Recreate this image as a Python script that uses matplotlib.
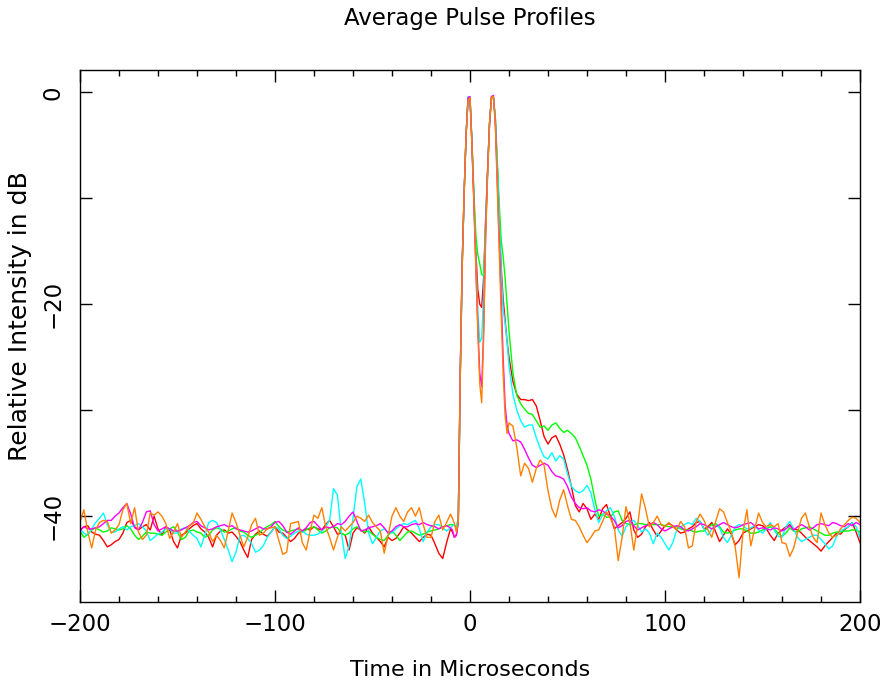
import numpy as np
import matplotlib
matplotlib.use("Agg")
import matplotlib.pyplot as plt
from matplotlib.ticker import MultipleLocator

# time grid (microseconds): coarse before/after the pulse, fine across it
t_pre = np.arange(-200, -9, 2)
t_mid = np.arange(-9, 20, 1)
t_post = np.arange(20, 201, 2)

# --- red ---
red_pre = [-41.3, -41.0, -40.9, -41.5, -41.7, -41.8, -42.3, -42.9, -42.7, -42.4,
           -42.2, -41.6, -40.6, -40.4, -41.0, -41.3, -41.0, -40.8, -41.3, -40.0,
           -41.2, -41.8, -41.0, -41.3, -42.4, -43.0, -41.8, -41.6, -41.2, -40.9,
           -40.7, -41.2, -41.5, -42.0, -42.9, -41.8, -41.4, -41.3, -41.6, -41.5,
           -41.9, -42.4, -43.2, -43.9, -42.2, -41.7, -41.4, -41.7, -41.9, -41.5,
           -41.0, -41.5, -41.6, -42.0, -42.4, -42.1, -41.6, -41.4, -41.2, -41.3,
           -41.0, -41.2, -41.3, -40.8, -40.4, -41.0, -41.7, -41.6, -41.8, -43.2,
           -41.6, -41.1, -41.3, -41.6, -41.0, -41.6, -42.0, -42.4, -42.9, -42.0,
           -42.3, -42.1, -41.6, -41.0, -41.3, -41.6, -42.0, -42.4, -42.0, -41.7,
           -41.8, -42.6, -43.5, -44.0, -42.5, -41.2]
red_mid = [-41.5, -42.0, -41.8, -40.5, -26.5, -16.0, -9.5, -4.0, -0.6, -0.6,
           -4.8, -10.0, -15.0, -18.6, -20.0, -20.3, -17.5, -12.0, -7.5, -3.0,
           -0.5, -0.5, -2.5, -7.0, -12.0, -16.5, -19.5, -21.5, -23.5]
red_post = [-25.0, -27.3, -28.5, -29.0, -29.0, -29.1, -29.0, -29.6, -31.0, -32.5,
            -33.2, -32.6, -32.4, -33.2, -34.2, -35.6, -37.2, -39.0, -39.6, -38.8,
            -39.3, -40.3, -39.8, -40.3, -39.3, -38.9, -40.0, -41.2, -40.9, -40.6,
            -40.2, -39.6, -41.3, -42.0, -41.7, -41.0, -40.6, -41.3, -41.9, -41.4,
            -40.9, -40.7, -40.9, -41.3, -41.6, -41.5, -41.2, -41.0, -40.6, -40.5,
            -41.2, -41.0, -40.6, -41.5, -42.4, -41.8, -41.2, -41.7, -42.7, -42.3,
            -41.6, -41.4, -41.2, -41.0, -40.8, -40.9, -41.2, -41.8, -42.3, -41.6,
            -41.3, -41.0, -40.8, -41.2, -41.3, -41.6, -42.0, -42.3, -42.6, -42.9,
            -43.3, -42.8, -42.4, -42.0, -41.6, -41.7, -41.3, -41.0, -40.6, -41.5, -42.5]

# --- green ---
green_pre = [-41.4, -42.0, -41.7, -41.3, -41.1, -41.3, -41.5, -41.4, -41.1, -41.2,
             -41.3, -41.2, -40.9, -41.2, -41.8, -42.2, -41.9, -41.5, -41.6, -41.6,
             -41.7, -41.8, -41.5, -41.2, -41.0, -41.5, -42.2, -42.0, -41.4, -41.3,
             -41.5, -41.6, -42.0, -41.8, -41.3, -41.1, -41.2, -41.5, -41.4, -41.2,
             -41.1, -41.4, -41.5, -41.8, -42.0, -41.8, -41.6, -41.2, -41.0, -40.8,
             -40.5, -41.0, -41.3, -41.5, -41.4, -41.3, -41.2, -41.5, -41.3, -41.1,
             -41.0, -41.3, -41.6, -41.4, -41.1, -41.0, -41.1, -41.6, -41.8, -41.6,
             -41.2, -41.0, -41.3, -41.5, -41.4, -41.7, -42.0, -42.2, -42.3, -41.8,
             -41.4, -41.8, -42.3, -41.9, -41.5, -41.4, -41.6, -41.8, -41.7, -41.5,
             -41.4, -41.3, -41.2, -41.0, -40.9, -40.8]
green_mid = [-40.8, -40.9, -41.0, -40.2, -27.0, -16.5, -9.5, -4.0, -0.5, -0.5,
             -4.5, -9.5, -13.5, -15.3, -16.2, -17.2, -17.3, -12.5, -7.5, -3.0,
             -0.5, -0.5, -2.5, -6.5, -10.5, -14.0, -15.5, -17.5, -20.0]
green_post = [-22.5, -26.5, -28.6, -29.4, -29.9, -30.3, -30.4, -31.0, -31.6, -31.5,
              -31.9, -31.4, -31.2, -31.7, -32.1, -31.9, -32.2, -32.6, -33.4, -34.3,
              -35.2, -36.5, -38.4, -40.0, -39.8, -40.1, -40.1, -39.6, -39.5, -40.4,
              -40.7, -40.8, -40.8, -40.7, -40.7, -40.8, -40.8, -40.8, -40.8, -40.8,
              -40.9, -41.0, -41.0, -41.0, -41.2, -41.3, -41.3, -41.4, -41.5, -41.4,
              -41.4, -41.1, -40.8, -40.7, -41.0, -41.5, -41.6, -41.5, -41.3, -41.2,
              -41.2, -41.4, -41.6, -41.6, -41.5, -41.3, -41.2, -41.0, -41.2, -41.6,
              -41.9, -41.6, -41.1, -41.4, -41.5, -41.2, -41.1, -41.0, -41.2, -41.4,
              -41.6, -41.8, -41.8, -41.6, -41.5, -41.5, -41.4, -41.4, -41.3, -41.3, -41.5]

# --- cyan ---
cyan_pre = [-41.2, -41.6, -41.8, -41.2, -40.6, -40.2, -39.7, -40.8, -41.5, -41.5,
            -41.2, -41.0, -41.3, -41.0, -40.9, -40.7, -41.0, -41.4, -42.3, -42.0,
            -41.7, -41.5, -41.2, -41.2, -41.6, -41.6, -41.2, -41.1, -41.4, -41.8,
            -42.1, -42.9, -41.8, -40.6, -40.4, -40.6, -41.3, -42.2, -43.2, -44.3,
            -43.4, -41.9, -41.8, -42.1, -42.6, -43.4, -43.2, -42.8, -42.0, -41.5,
            -41.0, -41.2, -41.8, -42.1, -41.9, -41.6, -41.4, -41.4, -41.7, -41.8,
            -41.8, -41.7, -41.4, -41.0, -40.4, -37.4, -38.0, -41.5, -44.0, -42.8,
            -40.2, -37.2, -36.5, -38.8, -41.6, -42.6, -42.0, -41.4, -41.2, -41.5,
            -41.6, -41.2, -40.9, -40.7, -40.8, -40.6, -40.4, -41.2, -42.4, -41.5,
            -41.0, -40.8, -40.8, -41.1, -41.4, -41.1]
cyan_mid = [-40.9, -40.8, -41.0, -40.3, -27.0, -16.5, -9.5, -4.0, -0.4, -0.5,
            -4.8, -10.0, -15.5, -20.5, -23.6, -23.2, -19.0, -12.5, -7.5, -3.0,
            -0.5, -0.4, -2.5, -7.0, -12.0, -17.0, -20.5, -21.8, -23.5]
cyan_post = [-25.8, -28.5, -30.0, -31.0, -31.6, -31.4, -31.4, -32.6, -33.6, -34.4,
             -34.6, -34.0, -34.8, -34.3, -34.6, -36.0, -37.2, -37.6, -37.8, -37.6,
             -37.1, -37.8, -39.4, -40.6, -39.9, -39.5, -39.2, -40.0, -41.3, -41.9,
             -41.0, -40.6, -40.4, -40.9, -41.5, -41.2, -41.6, -42.6, -41.6, -42.0,
             -42.6, -43.2, -42.5, -41.3, -41.0, -40.8, -40.6, -40.8, -40.2, -40.5,
             -41.2, -41.8, -41.2, -40.8, -41.1, -42.0, -42.5, -41.8, -41.0, -40.8,
             -40.9, -41.2, -41.1, -40.9, -41.3, -41.6, -41.2, -40.6, -41.3, -41.9,
             -42.0, -41.0, -40.5, -41.2, -42.0, -42.4, -42.2, -42.0, -41.8, -41.8,
             -42.2, -42.6, -43.1, -42.8, -41.9, -41.4, -41.2, -41.0, -40.6, -41.0, -42.0]

# --- magenta ---
magenta_pre = [-41.4, -41.0, -41.2, -41.2, -41.1, -41.0, -40.7, -40.4, -40.4, -40.0,
               -39.7, -39.2, -38.8, -39.8, -41.1, -41.3, -40.6, -39.6, -39.5, -40.8,
               -41.4, -41.2, -41.0, -41.2, -41.4, -41.4, -41.3, -41.1, -40.9, -40.6,
               -40.5, -40.9, -41.1, -41.3, -41.2, -41.0, -40.9, -40.8, -41.0, -40.9,
               -41.2, -41.3, -41.4, -41.5, -41.4, -41.2, -41.0, -41.2, -41.2, -41.0,
               -40.6, -40.5, -40.9, -41.5, -41.7, -41.4, -41.1, -41.4, -41.1, -40.6,
               -40.5, -40.9, -41.3, -41.0, -41.1, -41.0, -40.7, -40.8, -40.5, -40.0,
               -39.6, -40.5, -41.4, -41.3, -41.1, -41.0, -40.9, -40.7, -41.1, -41.6,
               -41.4, -41.0, -40.8, -41.0, -41.0, -40.8, -40.7, -40.8, -40.6, -40.8,
               -40.9, -41.0, -41.2, -41.0, -40.9, -41.1]
magenta_mid = [-41.3, -42.0, -41.8, -40.5, -26.5, -16.2, -9.5, -4.0, -0.5, -0.4,
               -5.0, -10.5, -16.5, -22.0, -26.5, -27.8, -22.5, -13.5, -7.5, -3.0,
               -0.4, -0.3, -3.0, -8.5, -14.0, -19.5, -25.0, -29.5, -31.4]
magenta_post = [-32.2, -32.9, -32.8, -33.0, -33.7, -34.5, -35.2, -35.4, -35.2, -35.0,
                -35.2, -35.8, -36.2, -36.3, -36.5, -37.2, -38.2, -38.8, -39.2, -39.3,
                -39.2, -39.5, -39.6, -39.4, -39.5, -39.8, -40.0, -40.4, -41.1, -40.9,
                -40.5, -40.4, -40.9, -41.3, -41.1, -40.9, -40.8, -40.6, -40.8, -41.2,
                -41.4, -41.2, -41.0, -40.9, -41.0, -41.3, -41.4, -41.2, -41.0, -40.7,
                -40.8, -41.0, -41.2, -41.0, -40.8, -40.6, -40.8, -41.0, -41.1, -41.0,
                -40.8, -40.7, -40.6, -40.9, -41.2, -41.1, -41.2, -41.3, -41.1, -41.2,
                -41.4, -41.2, -40.9, -41.3, -41.0, -40.8, -41.0, -41.3, -41.1, -40.8,
                -40.7, -40.8, -40.9, -40.6, -40.7, -40.9, -41.0, -40.7, -40.9, -40.6, -40.8]

# --- orange ---
orange_pre = [-40.5, -39.4, -41.5, -43.0, -41.3, -40.6, -40.4, -40.5, -41.6, -41.3,
              -40.8, -39.4, -38.8, -40.7, -39.2, -41.5, -42.2, -41.8, -39.7, -39.9,
              -39.6, -40.0, -40.7, -42.1, -41.5, -40.7, -42.0, -41.5, -40.9, -40.7,
              -39.7, -40.3, -41.0, -41.5, -42.4, -41.8, -42.3, -43.0, -41.4, -39.7,
              -40.6, -41.8, -42.9, -42.0, -40.8, -40.2, -41.8, -41.6, -41.2, -41.1,
              -41.0, -42.3, -43.6, -43.4, -40.7, -40.6, -40.5, -42.5, -43.2, -41.4,
              -39.9, -40.2, -39.2, -41.0, -42.0, -43.2, -42.0, -41.0, -41.4, -41.0,
              -40.6, -40.0, -40.2, -40.5, -39.9, -40.6, -41.0, -41.4, -43.5, -41.8,
              -40.0, -39.2, -40.0, -40.5, -39.6, -39.2, -40.0, -39.2, -40.8, -42.0,
              -42.0, -40.5, -39.9, -41.3, -40.6, -39.8]
orange_mid = [-40.2, -40.7, -41.5, -40.5, -27.0, -16.5, -9.5, -4.0, -0.8, -0.5,
              -5.0, -10.5, -16.5, -22.5, -27.5, -29.3, -23.0, -14.0, -8.0, -3.0,
              -0.5, -0.4, -3.0, -9.0, -15.0, -21.0, -26.5, -30.5, -32.2]
orange_post = [-31.2, -31.5, -33.5, -36.2, -35.0, -35.5, -36.8, -35.5, -34.7, -35.2,
               -37.6, -39.3, -40.1, -38.5, -37.5, -39.0, -40.3, -40.4, -41.0, -41.8,
               -42.5, -42.0, -41.4, -41.3, -40.5, -39.6, -40.2, -41.0, -44.2, -42.0,
               -39.1, -40.6, -43.2, -40.8, -37.9, -39.3, -41.0, -40.6, -40.0, -40.8,
               -41.0, -40.6, -41.0, -41.3, -40.5, -41.0, -43.0, -42.8, -40.5, -39.8,
               -40.4, -41.3, -42.0, -40.5, -39.3, -39.6, -40.6, -41.5, -42.9, -45.8,
               -41.5, -39.4, -42.8, -41.2, -39.7, -40.6, -41.0, -40.8, -41.0, -40.7,
               -42.5, -42.6, -43.8, -43.0, -41.5, -40.2, -39.7, -41.0, -42.0, -42.5,
               -39.7, -40.8, -41.6, -42.0, -41.8, -41.2, -40.8, -40.4, -40.1, -40.2, -40.6]

t = np.concatenate([t_pre, t_mid, t_post])
series = [
    (red_pre + red_mid + red_post, "#ff0000"),
    (green_pre + green_mid + green_post, "#00ff00"),
    (cyan_pre + cyan_mid + cyan_post, "#00ffff"),
    (magenta_pre + magenta_mid + magenta_post, "#ff00ff"),
    (orange_pre + orange_mid + orange_post, "#ff8000"),
]

fig = plt.figure(figsize=(8.84, 6.86), dpi=100)
ax = fig.add_axes([80 / 884, 84 / 686, 780 / 884, 532 / 686])

for vals, col in series:
    ax.plot(t, vals, color=col, lw=1.0)

ax.set_xlim(-200, 200)
ax.set_ylim(-48.1, 2.1)

ax.set_xticks([-200, -100, 0, 100, 200])
ax.xaxis.set_minor_locator(MultipleLocator(20))
ax.set_yticks([0, -20, -40])
ax.yaxis.set_minor_locator(MultipleLocator(10))
ax.set_yticklabels(["0", "\u221220", "\u221240"], rotation=90, va="center")

ax.tick_params(which="both", direction="in", top=True, right=True, width=1.0, color="black")
ax.tick_params(axis="x", which="major", length=8.6, pad=8, labelsize=16.5)
ax.tick_params(axis="x", which="minor", length=4.3)
ax.tick_params(axis="y", which="major", length=8.6, pad=11, labelsize=16.5)
ax.tick_params(axis="y", which="minor", length=8.6)
for s in ax.spines.values():
    s.set_linewidth(1.0)

# titles: Hershey-style text in the original is wide, so sizes are a bit larger
fig.text(470 / 884, 1 - 18 / 686, "Average Pulse Profiles", ha="center", va="center", fontsize=16.5)
fig.text(470 / 884, 1 - 670 / 686, "Time in Microseconds", ha="center", va="center", fontsize=16)
fig.text(20 / 884, 1 - 316 / 686, "Relative Intensity in dB", ha="center", va="center",
         rotation=90, fontsize=18)

fig.savefig("out.png", dpi=100)
